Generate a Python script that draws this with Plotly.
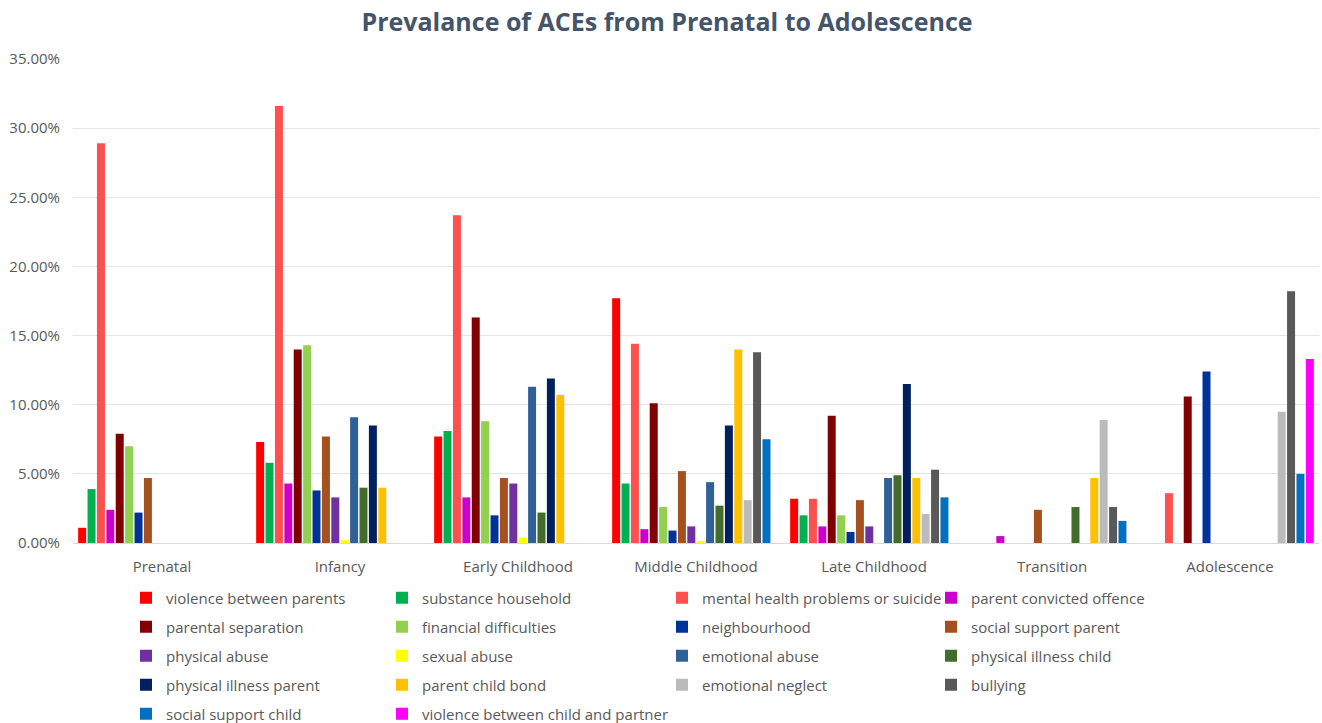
import plotly.graph_objects as go

categories = ["Prenatal", "Infancy", "Early Childhood", "Middle Childhood",
              "Late Childhood", "Transition", "Adolescence"]

series_names = [
    "violence between parents", "substance household",
    "mental health problems or suicide", "parent convicted offence",
    "parental separation", "financial difficulties", "neighbourhood",
    "social support parent", "physical abuse", "sexual abuse",
    "emotional abuse", "physical illness child", "physical illness parent",
    "parent child bond", "emotional neglect", "bullying",
    "social support child", "violence between child and partner",
]

# values in percent, one list per series (order of categories above)
violence_between_parents = [1.1, 7.3, 7.7, 17.7, 3.2, 0, 0]
substance_household = [3.9, 5.8, 8.1, 4.3, 2.0, 0, 0]
mental_health = [28.9, 31.6, 23.7, 14.4, 3.2, 0, 3.6]
parent_convicted_offence = [2.4, 4.3, 3.3, 1.0, 1.2, 0.5, 0]
parental_separation = [7.9, 14.0, 16.3, 10.1, 9.2, 0, 10.6]
financial_difficulties = [7.0, 14.3, 8.8, 2.6, 2.0, 0, 0]
neighbourhood = [2.2, 3.8, 2.0, 0.9, 0.8, 0, 12.4]
social_support_parent = [4.7, 7.7, 4.7, 5.2, 3.1, 2.4, 0]
physical_abuse = [0, 3.3, 4.3, 1.2, 1.2, 0, 0]
sexual_abuse = [0, 0.2, 0.4, 0.1, 0, 0, 0]
emotional_abuse = [0, 9.1, 11.3, 4.4, 4.7, 0, 0]
physical_illness_child = [0, 4.0, 2.2, 2.7, 4.9, 2.6, 0]
physical_illness_parent = [0, 8.5, 11.9, 8.5, 11.5, 0, 0]
parent_child_bond = [0, 4.0, 10.7, 14.0, 4.7, 4.7, 0]
emotional_neglect = [0, 0, 0, 3.1, 2.1, 8.9, 9.5]
bullying = [0, 0, 0, 13.8, 5.3, 2.6, 18.2]
social_support_child = [0, 0, 0, 7.5, 3.3, 1.6, 5.0]
violence_child_partner = [0, 0, 0, 0, 0, 0, 13.3]

series_values = [
    violence_between_parents, substance_household, mental_health,
    parent_convicted_offence, parental_separation, financial_difficulties,
    neighbourhood, social_support_parent, physical_abuse, sexual_abuse,
    emotional_abuse, physical_illness_child, physical_illness_parent,
    parent_child_bond, emotional_neglect, bullying, social_support_child,
    violence_child_partner,
]

colors = [
    "#FF0000", "#00B050", "#FF5050", "#CC00CC", "#800000", "#92D050",
    "#003399", "#A64F1F", "#7030A0", "#FFFF00", "#2F6097", "#426B2D",
    "#002060", "#FFC000", "#BBBBBB", "#595959", "#0070C0", "#FF00FF",
]

tick_vals = [0, 5, 10, 15, 20, 25, 30, 35]
tick_text = ["%.2f%%" % v for v in tick_vals]

W, H = 1322, 723
ml, mr, mt, mb = 73, 3, 59, 180
plot_w = W - ml - mr
plot_h = H - mt - mb

legend_cols_px = [137, 393, 673, 942]      # legend symbol left edges
legend_rows_px = [598, 627, 656, 685, 714]  # legend row centres

font_family = "Open Sans, Liberation Sans, sans-serif"

fig = go.Figure()
legends = {}
for i, (name, vals, col) in enumerate(zip(series_names, series_values, colors)):
    key = "legend" if i == 0 else "legend%d" % (i + 1)
    fig.add_trace(go.Bar(
        name=name, x=categories, y=vals,
        marker=dict(color=col, line=dict(width=0)),
        legend=key, showlegend=True,
    ))
    cx = legend_cols_px[i % 4] - 11
    ry = legend_rows_px[i // 4]
    legends[key] = dict(
        orientation="h",
        x=(cx - ml) / plot_w, xanchor="left",
        y=-(ry - (H - mb)) / plot_h, yanchor="middle",
        itemwidth=30,
        font=dict(family=font_family, size=15, color="#595959"),
        bgcolor="rgba(0,0,0,0)",
    )

fig.update_layout(
    width=W, height=H,
    showlegend=True,
    margin=dict(l=ml, r=mr, t=mt, b=mb, autoexpand=False),
    paper_bgcolor="white", plot_bgcolor="white",
    barmode="group", bargap=0.05, bargroupgap=0.15,
    title=dict(
        text="<b>Prevalance of ACEs from Prenatal to Adolescence</b>",
        x=667 / W, xref="container", xanchor="center",
        y=1 - 22 / H, yref="container", yanchor="middle",
        font=dict(family=font_family, size=25, color="#44546A"),
    ),
    font=dict(family=font_family, size=15, color="#595959"),
    xaxis=dict(
        showgrid=False, showline=True, linecolor="#D9D9D9", linewidth=1,
        ticks="", ticklabelstandoff=10,
        tickfont=dict(size=15, color="#595959"),
    ),
    yaxis=dict(
        range=[0, 35], tickmode="array", tickvals=tick_vals, ticktext=tick_text,
        showgrid=True, gridcolor="#E5E5E5", gridwidth=1,
        zeroline=False, showline=False, ticks="", ticklabelstandoff=12,
        tickfont=dict(size=15, color="#595959"),
    ),
    **legends,
)

fig.write_html("out.html", config={"displayModeBar": False},
               post_script="document.body.style.margin='0';")
